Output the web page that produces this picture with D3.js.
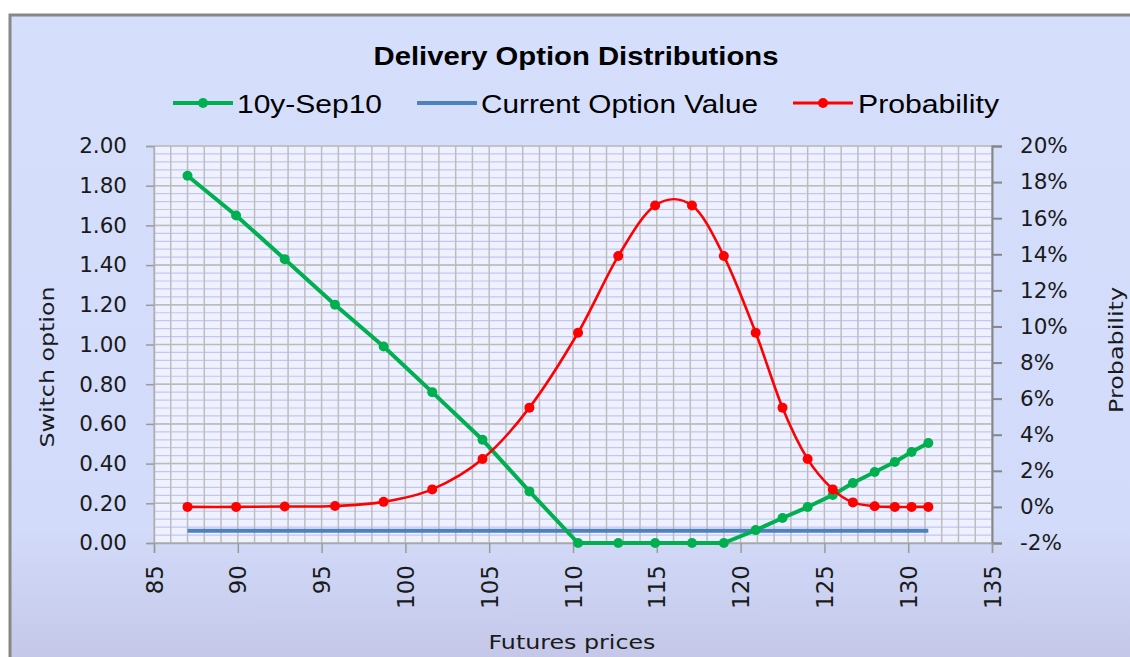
<!DOCTYPE html>
<html><head><meta charset="utf-8">
<script src="https://cdn.jsdelivr.net/npm/d3@7"></script>
<style>body{margin:0;background:#fff}svg{display:block}</style>
</head><body><svg id="c" width="1130" height="657"></svg>
<script>
// ---- data ----
const futuresPrices = [87.0, 89.9, 92.8, 95.8, 98.7, 101.6, 104.6, 107.4, 110.3, 112.7, 114.9, 117.1, 119.0, 120.9, 122.5, 124.0, 125.5, 126.7, 128.0, 129.2, 130.2, 131.2];
const switchOption = [1.85, 1.65, 1.43, 1.20, 0.99, 0.76, 0.52, 0.26, 0.0, 0.0, 0.0, 0.0, 0.0, 0.065, 0.126, 0.181, 0.242, 0.302, 0.358, 0.408, 0.458, 0.504];
const currentOptionValue = [0.062, 0.062, 0.062, 0.062, 0.062, 0.062, 0.062, 0.062, 0.062, 0.062, 0.062, 0.062, 0.062, 0.062, 0.062, 0.062, 0.062, 0.062, 0.062, 0.062, 0.062, 0.062];
const probability = [0.0, 0.0, 0.0002, 0.0005, 0.0028, 0.0097, 0.0265, 0.055, 0.0965, 0.139, 0.167, 0.167, 0.139, 0.0965, 0.055, 0.0265, 0.0097, 0.0025, 0.0004, 0.0, 0.0, 0.0];
const xTicks = [85, 90, 95, 100, 105, 110, 115, 120, 125, 130, 135];
const leftTicks = [0, 0.2, 0.4, 0.6, 0.8, 1.0, 1.2, 1.4, 1.6, 1.8, 2.0];
const rightTicks = [-0.02, 0, 0.02, 0.04, 0.06, 0.08, 0.10, 0.12, 0.14, 0.16, 0.18, 0.20];
const seriesNames = ["10y-Sep10", "Current Option Value", "Probability"];
const title = "Delivery Option Distributions";

// ---- layout ----
const svg = d3.select("#c");
const L = 154, R = 992, T = 146, B = 543;
const x = d3.scaleLinear().domain([85, 135]).range([L, R]);
const yL = d3.scaleLinear().domain([0, 2]).range([B, T]);
const yR = d3.scaleLinear().domain([-0.02, 0.20]).range([B, T]);
const AX = "DejaVu Sans, sans-serif";

const defs = svg.append("defs");
const g0 = defs.append("linearGradient").attr("id", "bg").attr("x1", 0).attr("y1", 0).attr("x2", 0).attr("y2", 1);
g0.append("stop").attr("offset", "0").attr("stop-color", "#d5dffc");
g0.append("stop").attr("offset", "0.78").attr("stop-color", "#d2dbf9");
g0.append("stop").attr("offset", "1").attr("stop-color", "#c3c5e6");

svg.append("rect").attr("x", 10).attr("y", 15).attr("width", 1140).attr("height", 660)
  .attr("fill", "url(#bg)").attr("stroke", "#878787").attr("stroke-width", 3);

svg.append("rect").attr("x", L).attr("y", T).attr("width", R - L).attr("height", B - T).attr("fill", "#eff2fe");

// minor horizontal grid (lavender)
const grid = svg.append("g");
grid.selectAll("line.mn").data(d3.range(0, 2.0001, 0.04)).join("line")
  .attr("x1", L).attr("x2", R).attr("y1", d => yL(d)).attr("y2", d => yL(d))
  .attr("stroke", "#c2c5f6").attr("stroke-width", 1.2);
// vertical grid
grid.selectAll("line.v").data(d3.range(85, 135.001, 1)).join("line").attr("class", "v")
  .attr("x1", d => x(d)).attr("x2", d => x(d)).attr("y1", T).attr("y2", B)
  .attr("stroke", "#bdbdbd").attr("stroke-width", 1.5);
// major horizontal grid
grid.selectAll("line.mj").data(leftTicks).join("line").attr("class", "mj")
  .attr("x1", L).attr("x2", R).attr("y1", d => yL(d)).attr("y2", d => yL(d))
  .attr("stroke", "#bbbbbb").attr("stroke-width", 1.5);

// axes
const ax = svg.append("g").attr("transform", `translate(${L},0)`)
  .call(d3.axisLeft(yL).tickValues(leftTicks).tickFormat(d3.format(".2f")).tickSize(8).tickPadding(19));
ax.select(".domain").attr("stroke", "#b0b0b0").attr("stroke-width", 1.5);
ax.selectAll(".tick line").attr("stroke", "#9a9a9a").attr("stroke-width", 1.5);
ax.selectAll("text").attr("font-family", AX).attr("font-size", 21.5).attr("fill", "#1a1a1a");

const pct = d => Math.round(d * 100) + "%";
const ar = svg.append("g").attr("transform", `translate(${R},0)`)
  .call(d3.axisRight(yR).tickValues(rightTicks).tickFormat(pct).tickSize(10).tickPadding(18));
ar.select(".domain").attr("stroke", "#868686").attr("stroke-width", 2);
ar.selectAll(".tick line").attr("stroke", "#868686").attr("stroke-width", 2);
ar.selectAll("text").attr("font-family", AX).attr("font-size", 21.5).attr("fill", "#1a1a1a");

const ab = svg.append("g").attr("transform", `translate(0,${B})`)
  .call(d3.axisBottom(x).tickValues(xTicks).tickSize(10).tickPadding(0));
ab.select(".domain").attr("stroke", "#a8a8a8").attr("stroke-width", 1.5);
ab.selectAll(".tick line").attr("stroke", "#9a9a9a").attr("stroke-width", 1.5);
ab.selectAll("text").attr("font-family", AX).attr("font-size", 23).attr("fill", "#1a1a1a")
  .attr("text-anchor", "end").attr("dy", "0.35em").attr("y", 0)
  .attr("transform", "translate(0,22) rotate(-90)");

// axis titles
svg.append("text").attr("transform", "translate(54,367) rotate(-90)").attr("text-anchor", "middle")
  .attr("font-family", AX).attr("font-size", 20).attr("fill", "#1a1a1a")
  .attr("textLength", 161).attr("lengthAdjust", "spacingAndGlyphs").text("Switch option");
svg.append("text").attr("x", 572).attr("y", 649).attr("text-anchor", "middle")
  .attr("font-family", AX).attr("font-size", 20).attr("fill", "#1a1a1a")
  .attr("textLength", 167).attr("lengthAdjust", "spacingAndGlyphs").text("Futures prices");
svg.append("text").attr("transform", "translate(1123,350) rotate(-90)").attr("text-anchor", "middle")
  .attr("font-family", AX).attr("font-size", 19.5).attr("fill", "#1a1a1a")
  .attr("textLength", 126).attr("lengthAdjust", "spacingAndGlyphs").text("Probability");

// series
const rows = futuresPrices.map((p, i) => ({p, s: switchOption[i], c: currentOptionValue[i], q: probability[i]}));
svg.append("path").datum(rows)
  .attr("d", d3.line().x(d => x(d.p)).y(d => yL(d.c)))
  .attr("fill", "none").attr("stroke", "#4f81bd").attr("stroke-width", 4);
svg.append("path").datum(rows)
  .attr("d", d3.line().x(d => x(d.p)).y(d => yL(d.s)))
  .attr("fill", "none").attr("stroke", "#00b050").attr("stroke-width", 4).attr("stroke-linejoin", "round");
svg.append("g").selectAll("circle").data(rows).join("circle")
  .attr("cx", d => x(d.p)).attr("cy", d => yL(d.s)).attr("r", 5).attr("fill", "#00b050");
svg.append("path").datum(rows)
  .attr("d", d3.line().curve(d3.curveCardinal.tension(0)).x(d => x(d.p)).y(d => yR(d.q)))
  .attr("fill", "none").attr("stroke", "#ff0000").attr("stroke-width", 2.6);
svg.append("g").selectAll("circle").data(rows).join("circle")
  .attr("cx", d => x(d.p)).attr("cy", d => yR(d.q)).attr("r", 5).attr("fill", "#ff0000");

// title
svg.append("text").attr("x", 576).attr("y", 65).attr("text-anchor", "middle")
  .attr("font-family", "Liberation Sans, Arial, sans-serif").attr("font-weight", "bold").attr("font-size", 25)
  .attr("fill", "#000").attr("textLength", 405).attr("lengthAdjust", "spacingAndGlyphs").text(title);

// legend
const leg = [
  {name: seriesNames[0], color: "#00b050", x0: 173, tx: 237, w: 145, marker: true, sw: 4},
  {name: seriesNames[1], color: "#4f81bd", x0: 417, tx: 481, w: 277, marker: false, sw: 4},
  {name: seriesNames[2], color: "#ff0000", x0: 793, tx: 858, w: 141, marker: true, sw: 3}
];
const lg = svg.append("g").selectAll("g").data(leg).join("g");
lg.append("line").attr("x1", d => d.x0).attr("x2", d => d.x0 + 60).attr("y1", 103).attr("y2", 103)
  .attr("stroke", d => d.color).attr("stroke-width", d => d.sw);
lg.filter(d => d.marker).append("circle").attr("cx", d => d.x0 + 30).attr("cy", 103).attr("r", 5).attr("fill", d => d.color);
lg.append("text").attr("x", d => d.tx).attr("y", 113).attr("font-family", "Liberation Sans, Arial, sans-serif")
  .attr("font-size", 25).attr("fill", "#000")
  .attr("textLength", d => d.w).attr("lengthAdjust", "spacingAndGlyphs").text(d => d.name);
</script></body></html>
